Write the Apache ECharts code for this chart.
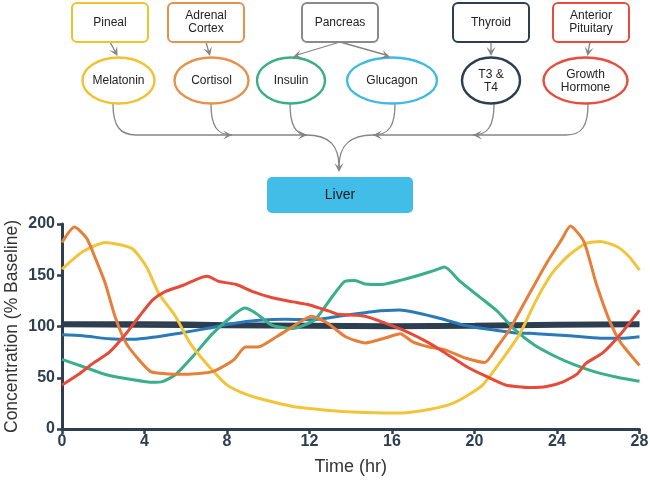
<!DOCTYPE html>
<html>
<head>
<meta charset="utf-8">
<script src="https://cdn.jsdelivr.net/npm/echarts@6/dist/echarts.min.js"></script>
<style>html,body{margin:0;padding:0;background:#fff;}#c{width:650px;height:484px;}</style>
</head>
<body>
<div id="c"></div>
<script>
// ---- Data (time in hr, concentration in % baseline) ----
const xTicks = [0, 4, 8, 12, 16, 20, 24, 28];
const glandNames = ['Pineal', 'Adrenal\nCortex', 'Pancreas', 'Thyroid', 'Anterior\nPituitary'];
const hormoneNames = ['Melatonin', 'Cortisol', 'Insulin', 'Glucagon', 'T3 &\nT4', 'Growth\nHormone'];
const targetName = 'Liver';

const melatonin = [[0,156],[1,173],[2.1,182],[3.4,176],[4.1,158],[4.7,132],[5.5,110],[6.2,84],[7,64],[8,43],[8.9,34],[9.9,28],[11.2,22],[13,18],[14.1,16.5],[16,15.5],[16.8,16],[17.8,19],[18.8,24],[19.6,32],[20.4,43],[21.2,64],[22.2,93],[23,126],[23.8,153],[24.6,170],[25.4,181],[26.1,183],[26.9,178],[27.5,168],[28,155]];
const cortisol = [[0,182],[0.6,197],[1.2,186],[1.65,165],[2.1,142],[2.55,111],[3.1,84],[3.75,67],[4.3,56],[5,54],[6,53.5],[7.3,56],[8.3,67],[8.9,80],[9.5,80],[10.4,90],[11.2,100],[12.1,110],[12.9,103],[13.75,90],[14.7,84],[15.7,89],[16.4,93],[17,85],[17.8,80],[18.6,77],[19.6,69],[20.5,65],[21.1,80],[21.7,97],[22.5,126],[23.5,162],[24.2,184],[24.65,198],[25.3,183],[25.9,142],[26.6,103],[27.1,84],[28,62]];
const insulin = [[0,68],[1,61],[2.15,53],[3.45,48],[4.4,45.5],[4.9,46.5],[5.5,53],[6.35,71],[7.3,93],[8.3,111],[8.85,118],[9.4,113],[10.2,101],[11.2,98],[12.15,105],[12.45,111],[13.1,129],[13.7,144],[14.2,145],[14.7,141.5],[15.5,141],[16.5,145.5],[17.3,150],[18.1,155],[18.55,158],[19.3,144],[20.3,128],[21.1,115],[21.9,98],[22.9,82],[23.9,71],[24.8,63],[25.8,56],[26.8,51],[28,46.5]];
const glucagon = [[0,92],[1,91],[2.3,88],[3.45,87.5],[4.4,89.5],[5.7,93.5],[7,98],[8.3,103],[9.55,106],[10.85,107],[12.15,106.5],[13.75,111],[15.05,114.5],[16.35,116],[17.3,113],[18.3,108],[19.45,101.5],[20.6,97.5],[21.9,94],[23,93],[24.6,91],[26.1,88.5],[27.1,88.5],[28,90]];
const t3 = [[0,103.5],[4,103.5],[8,102.5],[12,102],[16,101.5],[20,102],[24,103],[28,103.5]];
const t4 = [[0,101],[4,100.5],[8,100],[12,99.5],[16,99],[20,99.5],[24,100.5],[28,101]];
const growthHormone = [[0,43],[0.85,54],[1.5,64],[2.3,75],[3.1,93],[3.75,110],[4.4,126],[5,134],[5.85,140],[6.65,147],[7.05,149],[7.6,144],[8.45,141],[9.25,134],[10.2,128],[11.2,124],[12,121],[12.95,115],[13.4,112],[14.7,110],[15.7,103],[16.7,95],[17.7,85],[18.6,74],[19.6,61],[20.6,51],[21.5,43],[22.7,40.5],[23.5,41.5],[24.3,46],[25,54],[25.4,64],[26.2,74],[27.1,93],[28,116]];

// ---- Diagram styling ----
const FONT = 'Liberation Sans, Arial, sans-serif';
const GRAY = '#858585';
const glandBoxes = [
  {x: 72, color: '#f2c12e'},
  {x: 168, color: '#e8914a'},
  {x: 302, color: '#8a8a8a'},
  {x: 453, color: '#2c3e50'},
  {x: 553, color: '#e74c3c'}
];
const hormoneEllipses = [
  {cx: 118.5, rx: 36, color: '#f2c12e'},
  {cx: 211.5, rx: 37, color: '#e8914a'},
  {cx: 291, rx: 34, color: '#3aaf85'},
  {cx: 392, rx: 45, color: '#41b9e4'},
  {cx: 491, rx: 29, color: '#2c3e50'},
  {cx: 585.5, rx: 42, color: '#e74c3c'}
];

const g = [];
function arrowHead(tx, ty, dx, dy) {
  const len = Math.hypot(dx, dy), ux = dx / len, uy = dy / len, nx = -uy, ny = ux;
  const L = 9, W = 4.5;
  g.push({type: 'polygon', z: 10, shape: {points: [
    [tx, ty],
    [tx - L * ux + W * nx, ty - L * uy + W * ny],
    [tx - 0.55 * L * ux, ty - 0.55 * L * uy],
    [tx - L * ux - W * nx, ty - L * uy - W * ny]
  ]}, style: {fill: GRAY}});
}
function line(x1, y1, x2, y2) {
  g.push({type: 'line', z: 9, shape: {x1, y1, x2, y2}, style: {stroke: GRAY, lineWidth: 1.3}});
}
function curve(x1, y1, c1x, c1y, c2x, c2y, x2, y2) {
  g.push({type: 'bezierCurve', z: 9, shape: {x1, y1, x2, y2, cpx1: c1x, cpy1: c1y, cpx2: c2x, cpy2: c2y},
    style: {stroke: GRAY, lineWidth: 1.3, fill: null}});
}

glandBoxes.forEach((b, i) => {
  g.push({type: 'rect', z: 10, shape: {x: b.x, y: 3, width: 76, height: 39, r: 5},
    style: {fill: '#fff', stroke: b.color, lineWidth: 2}});
  g.push({type: 'text', z: 11, x: b.x + 38, y: 22.5, style: {text: glandNames[i], font: '12px ' + FONT,
    fill: '#222', align: 'center', verticalAlign: 'middle', lineHeight: 13}});
});
hormoneEllipses.forEach((e, i) => {
  g.push({type: 'ellipse', z: 10, shape: {cx: e.cx, cy: 80.5, rx: e.rx, ry: 23},
    style: {fill: '#fff', stroke: e.color, lineWidth: 2.4}});
  g.push({type: 'text', z: 11, x: e.cx, y: 81, style: {text: hormoneNames[i], font: '12px ' + FONT,
    fill: '#222', align: 'center', verticalAlign: 'middle', lineHeight: 13}});
});

// gland -> hormone arrows
line(110, 42, 116, 53); arrowHead(117.5, 56, 6, 11);
line(206, 42, 209, 53); arrowHead(210, 56, 3, 11);
line(340, 42, 297, 55); arrowHead(293, 57, -43, 14);
line(340, 42, 386, 55); arrowHead(390, 57, 46, 14);
line(491, 42, 491, 52); arrowHead(491, 56, 0, 11);
line(590, 42, 588, 52); arrowHead(587.5, 56, -2, 11);

// hormone -> liver flow
curve(113, 104, 113, 126, 120, 135, 136, 135);
line(136, 135, 306, 135);
curve(211, 104, 211, 126, 217, 135, 232, 135); arrowHead(232, 135, 1, 0);
curve(290, 104, 290, 126, 296, 135, 307, 135); arrowHead(307, 135, 1, 0);
curve(306, 135, 330, 135, 339, 146, 339, 167);
curve(395, 104, 395, 126, 389, 135, 373, 135); arrowHead(373, 135, -1, 0);
curve(494, 104, 494, 126, 488, 135, 473, 135); arrowHead(473, 135, -1, 0);
curve(588, 104, 588, 126, 582, 135, 566, 135);
line(566, 135, 373, 135);
curve(373, 135, 349, 135, 339, 146, 339, 167);
arrowHead(339, 172, 0, 1);

g.push({type: 'rect', z: 10, shape: {x: 267, y: 177, width: 146, height: 36, r: 5},
  style: {fill: '#41bde8'}});
g.push({type: 'text', z: 11, x: 340, y: 195.5, style: {text: targetName, font: '14px ' + FONT,
  fill: '#1a1a1a', align: 'center', verticalAlign: 'middle'}});

// ---- Chart ----
const AXIS = '#2c3e50';
function mkSeries(name, data, color, width) {
  return {name, type: 'line', data, showSymbol: false, smooth: 0.2, silent: true,
    lineStyle: {color, width}, itemStyle: {color}};
}
const chart = echarts.init(document.getElementById('c'), null, {renderer: 'canvas'});
chart.setOption({
  animation: false,
  backgroundColor: '#fff',
  grid: {left: 62, right: 10.5, top: 224, bottom: 55, containLabel: false, outerBoundsMode: 'none'},
  xAxis: {
    type: 'value', min: xTicks[0], max: xTicks[xTicks.length - 1], interval: 4,
    name: 'Time (hr)', nameLocation: 'middle', nameGap: 29, nameMoveOverlap: false,
    nameTextStyle: {fontSize: 18, color: '#333', fontFamily: FONT},
    axisLine: {lineStyle: {color: AXIS, width: 3}},
    axisTick: {show: true, length: 5, lineStyle: {color: AXIS, width: 2.5}},
    axisLabel: {fontSize: 16, fontWeight: 'bold', color: AXIS, fontFamily: FONT, margin: 5},
    splitLine: {show: false}
  },
  yAxis: {
    type: 'value', min: 0, max: 200, interval: 50,
    name: 'Concentration (% Baseline)', nameLocation: 'middle', nameGap: 41, nameMoveOverlap: false,
    nameTextStyle: {fontSize: 17.5, color: '#333', fontFamily: FONT},
    axisLine: {show: true, lineStyle: {color: AXIS, width: 3}},
    axisTick: {show: true, length: 5, lineStyle: {color: AXIS, width: 2.5}},
    axisLabel: {fontSize: 16, fontWeight: 'bold', color: AXIS, fontFamily: FONT, margin: 7},
    splitLine: {show: false}
  },
  series: [
    mkSeries('T3', t3, '#2c3e50', 3.5),
    mkSeries('T4', t4, '#2c3e50', 3.5),
    mkSeries('Glucagon', glucagon, '#2a7ab8', 3),
    mkSeries('Insulin', insulin, '#3aaf8a', 3),
    mkSeries('Melatonin', melatonin, '#f2c43a', 3),
    mkSeries('Cortisol', cortisol, '#e57f3a', 3),
    mkSeries('Growth Hormone', growthHormone, '#e54b38', 3)
  ],
  graphic: g
});
</script>
</body>
</html>
